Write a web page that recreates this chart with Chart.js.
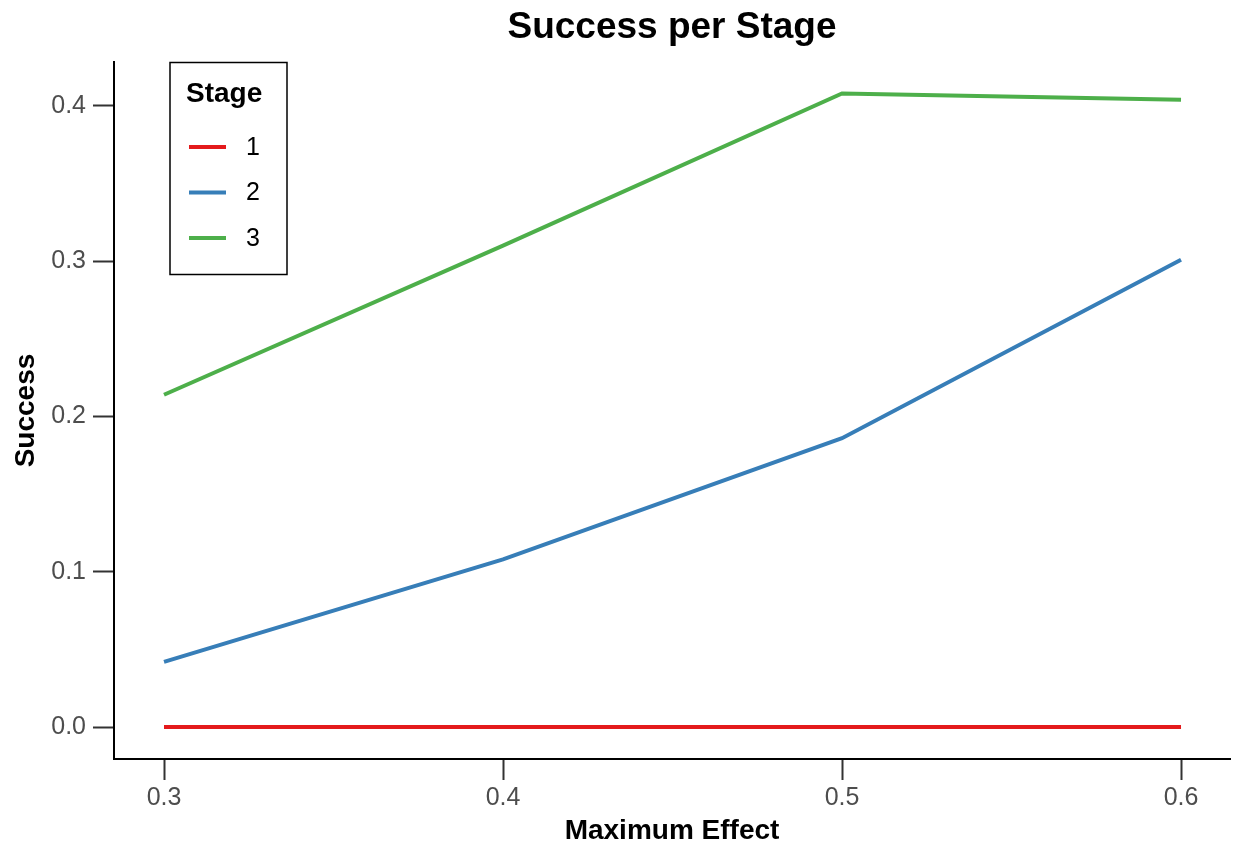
<!DOCTYPE html>
<html>
<head>
<meta charset="utf-8">
<script src="https://cdn.jsdelivr.net/npm/chart.js@4/dist/chart.umd.min.js"></script>
<style>
  body { margin: 0; background: #fff; }
  #wrap { width: 1236px; height: 850px; }
</style>
</head>
<body>
<div id="wrap"><canvas id="chart" width="1236" height="850"></canvas></div>
<script>
// data
const effects = [0.3, 0.4, 0.5, 0.6];
const stages = ['1', '2', '3'];
const stage1 = [0.0, 0.0, 0.0, 0.0];
const stage2 = [0.042, 0.108, 0.186, 0.301];
const stage3 = [0.214, 0.310, 0.408, 0.404];
const xTicks = [0.3, 0.4, 0.5, 0.6];
const yTicks = [0.0, 0.1, 0.2, 0.3, 0.4];
const colors = ['#E41A1C', '#377EB8', '#4DAF4A'];
const chartTitle = 'Success per Stage';

const FONT = '"Liberation Sans", Arial, sans-serif';

const series = [stage1, stage2, stage3];
const datasets = series.map((vals, i) => ({
    label: stages[i],
    data: vals.map((v, j) => ({x: effects[j], y: v})),
    borderColor: colors[i],
    backgroundColor: colors[i],
    borderWidth: 4,
    pointRadius: 0,
    tension: 0,
    fill: false
}));

// title centred over the panel (ggplot style) + legend box over the plot
const boxLegend = {
    id: 'boxLegend',
    afterDraw(chart) {
        const ctx = chart.ctx;
        const area = chart.chartArea;
        ctx.save();
        ctx.fillStyle = '#000';
        ctx.textAlign = 'center';
        ctx.textBaseline = 'middle';
        ctx.font = 'bold 37px ' + FONT;
        ctx.fillText(chartTitle, (area.left + area.right) / 2, 28);

        ctx.strokeStyle = '#000';
        ctx.lineWidth = 1.5;
        ctx.strokeRect(170, 62.5, 117, 212);
        ctx.textAlign = 'left';
        ctx.font = 'bold 28px ' + FONT;
        ctx.fillText('Stage', 186, 94);
        ctx.font = '25px ' + FONT;
        chart.data.datasets.forEach((ds, i) => {
            let y = 147 + i * 45.5;
            ctx.strokeStyle = ds.borderColor;
            ctx.lineWidth = 4;
            ctx.beginPath();
            ctx.moveTo(189, y);
            ctx.lineTo(226, y);
            ctx.stroke();
            ctx.fillStyle = '#000';
            ctx.fillText(ds.label, 246, y + 1);
        });
        ctx.restore();
    }
};

new Chart(document.getElementById('chart'), {
    type: 'line',
    data: {datasets: datasets},
    plugins: [boxLegend],
    options: {
        responsive: false,
        animation: false,
        devicePixelRatio: 1,
        layout: {padding: {top: 62, right: 6, bottom: 0, left: 0}},
        plugins: {
            legend: {display: false},
            tooltip: {enabled: false},
            title: {display: false}
        },
        scales: {
            x: {
                type: 'linear',
                min: 0.28525,
                max: 0.61445,
                afterBuildTicks: (scale) => { scale.ticks = xTicks.map(v => ({value: v})); },
                afterFit: (scale) => { scale.height = 91; },
                grid: {drawOnChartArea: false, drawTicks: true, tickLength: 21, tickWidth: 2, tickColor: '#333'},
                border: {display: true, color: '#000', width: 2},
                ticks: {
                    color: '#4d4d4d',
                    padding: 3,
                    font: {family: FONT, size: 25},
                    maxRotation: 0,
                    callback: (v) => Number(v).toFixed(1)
                },
                title: {
                    display: true,
                    text: 'Maximum Effect',
                    color: '#000',
                    font: {family: FONT, size: 28, weight: 'bold'},
                    padding: {top: 0, bottom: 2}
                }
            },
            y: {
                min: -0.0206,
                max: 0.4283,
                afterBuildTicks: (scale) => { scale.ticks = yTicks.map(v => ({value: v})); },
                afterFit: (scale) => { scale.width = 114; },
                grid: {drawOnChartArea: false, drawTicks: true, tickLength: 21, tickWidth: 2, tickColor: '#333'},
                border: {display: true, color: '#000', width: 2},
                ticks: {
                    color: '#4d4d4d',
                    padding: 7,
                    font: {family: FONT, size: 25},
                    callback: (v) => Number(v).toFixed(1)
                },
                title: {
                    display: true,
                    text: 'Success',
                    color: '#000',
                    font: {family: FONT, size: 28, weight: 'bold'},
                    padding: {top: 9, bottom: 0}
                }
            }
        }
    }
});
</script>
</body>
</html>
